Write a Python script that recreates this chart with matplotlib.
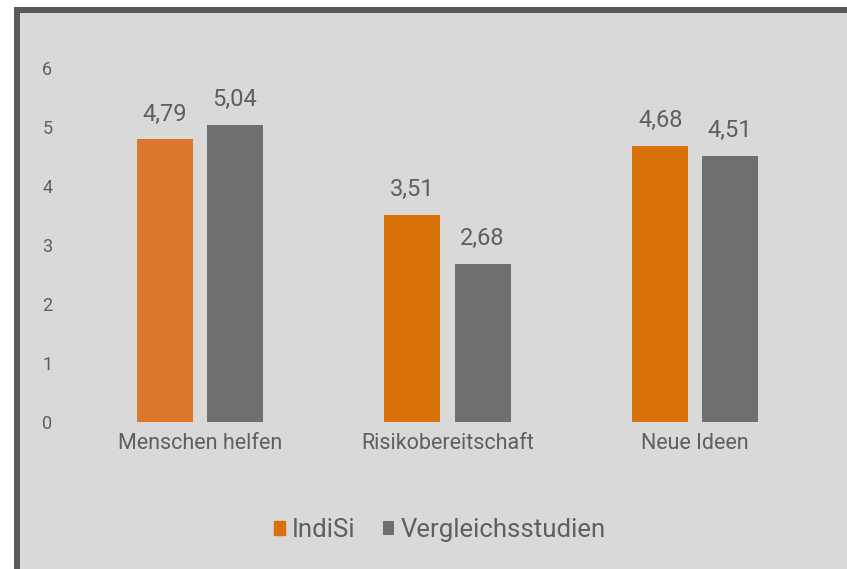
import numpy as np
import matplotlib
matplotlib.use("Agg")
import matplotlib.pyplot as plt
from matplotlib.patches import Rectangle

categories = ["Menschen helfen", "Risikobereitschaft", "Neue Ideen"]
indisi = [4.79, 3.51, 4.68]
vergleich = [5.04, 2.68, 4.51]
series_names = ["IndiSi", "Vergleichsstudien"]
yticks = [0, 1, 2, 3, 4, 5, 6]

BG = "#d9d9d9"
FRAME = "#595959"
TXT = "#5f5f5f"
ORANGE = "#d97208"
ORANGE_FIRST = "#de772e"
GRAY = "#6f6f6d"

plt.rcParams["font.family"] = ["Roboto", "DejaVu Sans"]

W, H = 847, 569
fig = plt.figure(figsize=(W / 100, H / 100), dpi=100, facecolor="white")
# outer frame: dark band on top and left, chart area continues past right/bottom
fig.patches.append(Rectangle((14 / W, 0), 1, (H - 7) / H, transform=fig.transFigure,
                             facecolor=FRAME, edgecolor="none", zorder=-10))
fig.patches.append(Rectangle((20 / W, 0), 1, (H - 13) / H, transform=fig.transFigure,
                             facecolor=BG, edgecolor="none", zorder=-9))

ax = fig.add_axes([76 / W, (H - 422) / H, 743 / W, 354 / H])
ax.set_zorder(1)
ax.set_facecolor("none")

x = np.arange(len(categories))
bw = 0.226
off = 0.1414
colors_o = [ORANGE_FIRST] + [ORANGE] * (len(categories) - 1)
b1 = ax.bar(x - off, indisi, bw, color=colors_o, label=series_names[0], zorder=2)
b2 = ax.bar(x + off, vergleich, bw, color=GRAY, label=series_names[1], zorder=2)

for bars, vals in [(b1, indisi), (b2, vergleich)]:
    for b, v in zip(bars, vals):
        ax.annotate(f"{v:.2f}".replace(".", ","), (b.get_x() + b.get_width() / 2, v),
                    xytext=(0, 10), textcoords="offset points", ha="center", va="bottom",
                    fontsize=17, color=TXT)

ax.set_xlim(-0.5, len(categories) - 0.5)
ax.set_ylim(0, 6)
ax.set_yticks(yticks)
ax.set_yticklabels([str(t) for t in yticks], fontsize=13, color=TXT)
ax.set_xticks(x)
ax.set_xticklabels(categories, fontsize=15.5, color=TXT)
ax.tick_params(axis="both", length=0)
ax.tick_params(axis="y", pad=17)
ax.tick_params(axis="x", pad=8)
for s in ax.spines.values():
    s.set_visible(False)

leg = fig.legend(handles=[b1[0], b2], labels=series_names, loc="center",
                 bbox_to_anchor=(440 / W, (H - 530) / H), ncol=2, frameon=False,
                 fontsize=18.5, handlelength=0.43, handleheight=0.43, handletextpad=0.25,
                 columnspacing=1.1)
leg.legend_handles[0].set_color(ORANGE)
for t in leg.get_texts():
    t.set_color(TXT)

fig.savefig("out.png", dpi=100, facecolor=fig.get_facecolor())
